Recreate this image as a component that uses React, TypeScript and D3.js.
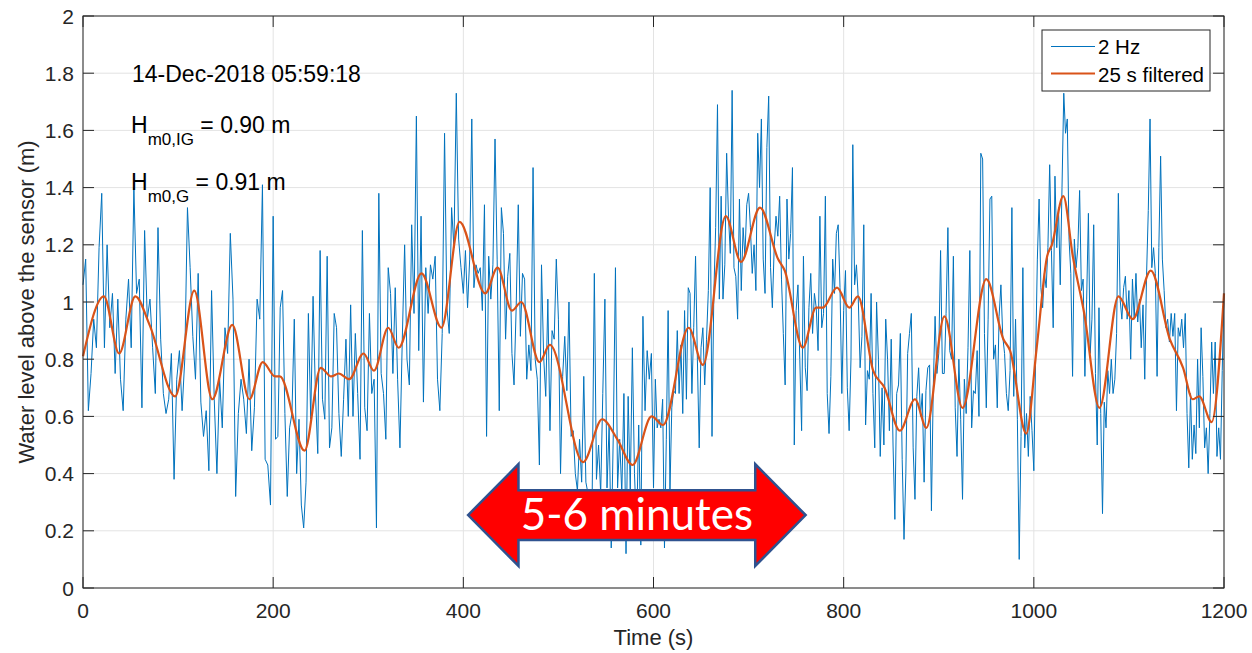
import * as d3 from 'd3';

// 2 Hz record in 200 s blocks (values in m)
const raw0 = [1.06, 1.15, 0.62, 0.75, 0.94, 0.84, 1.19, 1.38, 0.84, 1.20, 0.91, 1.03, 0.75, 1.01, 0.73, 0.62, 0.94, 1.08, 0.84, 1.40, 1.03, 1.08, 0.63, 1.25, 0.94, 1.01, 0.84, 0.68, 1.26, 0.87, 0.68, 0.61, 0.66, 0.82, 0.38, 0.73, 0.83, 0.62, 0.80, 1.33, 1.12, 0.88, 0.73, 1.10, 0.65, 0.53, 0.62, 0.41, 1.04, 0.66, 0.40, 0.73, 0.56, 0.91, 0.82, 1.24, 1.01, 0.32, 0.61, 0.73, 0.66, 0.54, 0.80, 0.48, 0.63, 1.01, 0.94, 1.41, 0.45, 0.43, 0.29];
const raw1 = [1.30, 0.52, 0.53, 0.98, 1.04, 0.61, 0.32, 0.56, 0.61, 0.94, 0.40, 0.59, 0.29, 0.21, 0.37, 0.96, 0.59, 1.02, 0.68, 0.47, 1.18, 0.66, 0.59, 1.16, 0.49, 0.56, 0.96, 0.91, 0.61, 0.46, 0.66, 0.87, 0.60, 0.99, 0.60, 0.89, 0.68, 0.45, 1.25, 0.63, 0.55, 0.96, 0.68, 0.73, 0.21, 1.38, 0.75, 0.68, 0.52, 1.12, 1.03, 0.75, 1.05, 0.73, 0.49, 0.87, 1.20, 0.80, 0.71, 1.27, 0.96, 1.65, 0.83, 1.30, 0.65, 1.12, 0.96, 1.13, 1.08, 1.16, 0.73, 0.62, 0.89, 1.59, 0.98, 0.89, 1.33, 1.19, 1.73, 1.22, 1.12];
const raw2 = [1.03, 1.18, 0.98, 1.15, 1.64, 1.05, 1.13, 1.10, 1.12, 0.97, 1.34, 0.53, 1.16, 1.01, 1.13, 1.57, 1.15, 0.62, 1.33, 1.24, 0.87, 1.09, 1.17, 0.82, 0.71, 0.98, 1.34, 0.88, 1.10, 1.08, 0.73, 0.85, 0.76, 1.47, 0.80, 0.73, 0.43, 1.13, 0.81, 0.67, 1.01, 0.55, 0.90, 0.87, 1.15, 0.94, 0.40, 0.74, 0.88, 0.69, 1.00, 0.53, 0.55, 0.40, 0.34, 0.52, 0.37, 0.74, 0.37, 0.33, 0.34, 0.34, 1.10, 0.38, 0.50, 0.33, 0.68, 1.01, 0.35, 0.57, 0.14, 0.55, 1.12, 0.35, 0.52, 0.33, 0.68, 0.12, 0.67, 0.34, 0.84, 0.40, 0.20, 0.57, 0.15, 0.95, 0.62, 0.83, 0.73, 0.82];
const raw3 = [0.35, 0.73, 0.56, 0.59, 0.56, 0.66, 0.14, 0.52, 0.97, 0.34, 0.63, 0.69, 0.68, 0.90, 0.68, 0.85, 0.61, 0.97, 0.66, 1.05, 1.03, 0.68, 0.91, 1.16, 0.80, 0.49, 0.84, 0.91, 0.71, 0.87, 1.04, 1.40, 0.53, 1.03, 1.26, 1.69, 1.01, 1.37, 1.01, 1.13, 1.52, 1.30, 1.17, 1.74, 1.12, 1.09, 0.94, 1.36, 1.04, 1.26, 1.16, 1.34, 1.38, 1.26, 1.10, 1.20, 1.04, 1.59, 1.40, 1.64, 1.15, 1.03, 1.54, 1.72, 1.12, 0.98, 1.19, 1.30, 1.23, 1.37, 1.08, 0.89, 0.71, 1.36, 1.15, 1.24, 1.47, 0.50, 0.97, 1.06, 0.80, 0.55, 1.16, 0.77, 0.69, 0.98, 1.10, 0.89, 1.03, 0.98, 0.83, 1.30, 0.91, 0.96, 1.37, 0.68, 0.54, 0.74, 1.15, 1.03, 1.24, 1.27, 1.05, 0.68];
const raw4 = [0.97, 1.11, 0.70, 0.55, 0.80, 1.55, 1.06, 1.13, 1.01, 0.77, 0.88, 1.27, 0.57, 0.76, 0.73, 1.03, 0.68, 0.49, 1.00, 0.80, 0.46, 0.70, 0.50, 0.94, 0.80, 0.55, 0.87, 0.50, 0.24, 0.68, 0.71, 0.89, 0.45, 0.17, 0.40, 0.82, 0.89, 0.96, 0.49, 0.31, 0.67, 0.77, 0.60, 0.68, 0.37, 0.69, 0.77, 0.78, 0.27, 0.70, 0.95, 0.75, 0.82, 1.18, 0.75, 0.75, 0.96, 1.26, 0.83, 0.80, 1.16, 0.63, 0.46, 0.80, 0.59, 0.31, 0.73, 0.61, 0.84, 1.18, 0.56, 0.69, 0.68, 0.83, 0.60, 1.52, 1.50, 0.89, 0.63, 0.94, 1.36, 1.37, 0.80, 0.85, 0.63, 0.95, 1.06, 0.88, 0.82, 0.68, 0.62, 0.76, 1.33, 0.67, 0.94, 0.59, 0.10, 0.53, 1.12, 0.49, 0.61, 0.46, 0.67, 0.55];
const raw5 = [0.41, 0.80, 1.15, 1.36, 1.05, 0.98, 1.10, 1.05, 1.19, 1.48, 1.18, 0.91, 1.44, 1.19, 1.33, 1.06, 1.40, 1.73, 1.59, 1.64, 1.22, 1.10, 0.74, 1.22, 1.12, 1.19, 1.39, 1.04, 1.08, 0.74, 1.01, 1.31, 0.82, 0.94, 1.27, 0.75, 0.50, 0.98, 0.61, 0.26, 0.65, 0.56, 0.76, 0.68, 0.80, 0.68, 0.73, 0.89, 1.38, 1.01, 0.94, 1.05, 1.09, 0.94, 1.04, 0.80, 1.08, 0.94, 1.10, 0.93, 1.01, 0.84, 0.99, 0.73, 1.09, 1.32, 1.64, 1.12, 1.19, 1.10, 0.74, 1.19, 1.51, 1.15, 1.04, 0.91, 0.94, 0.86, 0.96, 0.88, 0.96, 0.62, 0.91, 0.88, 0.94, 0.84, 0.96, 0.61, 0.42, 0.68, 0.45, 0.57, 0.47, 0.80, 0.56, 0.91, 0.74, 0.49, 0.56, 0.40, 0.61, 0.86, 0.68, 0.86, 0.46, 0.56, 0.45, 0.76, 1.03];
const rawBlocks = [raw0, raw1, raw2, raw3, raw4, raw5];

// 25 s low-pass signal: [time (s), level (m)]
const filtered: [number, number][] = [
  [0, 0.81], [22, 1.02], [38, 0.82], [55, 1.02], [70, 0.92], [97, 0.67], [117, 1.04], [136, 0.66],
  [157, 0.92], [175, 0.66], [189, 0.79], [202, 0.74], [207, 0.74], [233, 0.48], [250, 0.77], [261, 0.74],
  [269, 0.75], [280, 0.73], [295, 0.82], [306, 0.76], [321, 0.91], [332, 0.84], [356, 1.10], [377, 0.91],
  [396, 1.28], [423, 1.03], [436, 1.12], [451, 0.97], [461, 1.00], [480, 0.79], [491, 0.85], [526, 0.44],
  [546, 0.59], [562, 0.52], [578, 0.43], [598, 0.60], [610, 0.57], [637, 0.91], [652, 0.78], [676, 1.30],
  [692, 1.14], [712, 1.33], [731, 1.15], [738, 1.11], [757, 0.84], [771, 0.98], [778, 0.98], [793, 1.05],
  [806, 0.98], [815, 1.02], [831, 0.76], [843, 0.70], [859, 0.55], [875, 0.66], [887, 0.56], [906, 0.95],
  [925, 0.63], [950, 1.08], [968, 0.87], [975, 0.83], [992, 0.54], [1003, 0.84], [1014, 1.16], [1019, 1.20],
  [1031, 1.37], [1041, 1.16], [1053, 0.96], [1069, 0.63], [1089, 1.02], [1104, 0.94], [1123, 1.11], [1143, 0.87],
  [1157, 0.77], [1167, 0.66], [1174, 0.67], [1187, 0.58], [1200, 1.03],
];

const xTicks = [0, 200, 400, 600, 800, 1000, 1200];
const yTicks = [0, 0.2, 0.4, 0.6, 0.8, 1, 1.2, 1.4, 1.6, 1.8, 2];

const W = 1252;
const H = 653;
const plot = { left: 83, right: 1224, top: 16, bottom: 588 };
const font = '"Liberation Sans", Arial, sans-serif';
const axisColor = '#262626';
const gridColor = '#e3e3e3';
const tickLen = 11;

export default function App() {
  const x = d3.scaleLinear().domain([0, 1200]).range([plot.left, plot.right]);
  const y = d3.scaleLinear().domain([0, 2]).range([plot.bottom, plot.top]);

  const rawPts: [number, number][] = [];
  rawBlocks.forEach((blk, k) => {
    const n = k === rawBlocks.length - 1 ? blk.length - 1 : blk.length;
    blk.forEach((v, i) => rawPts.push([200 * k + (i * 200) / n, v]));
  });

  const rawLine = d3.line<[number, number]>().x(d => x(d[0])).y(d => y(d[1]));
  const smoothLine = d3.line<[number, number]>()
    .x(d => x(d[0]))
    .y(d => y(d[1]))
    .curve(d3.curveMonotoneX);

  // double-headed arrow annotation, in data units
  const aL = 405, aR = 760, aHead = 53;
  const aMid = 0.255, aShaft = 0.087, aHalf = 0.178;
  const arrowPts: [number, number][] = [
    [aL, aMid], [aL + aHead, aMid + aHalf], [aL + aHead, aMid + aShaft], [aR - aHead, aMid + aShaft],
    [aR - aHead, aMid + aHalf], [aR, aMid], [aR - aHead, aMid - aHalf], [aR - aHead, aMid - aShaft],
    [aL + aHead, aMid - aShaft], [aL + aHead, aMid - aHalf],
  ];
  const arrowPath = arrowPts.map(p => `${x(p[0])},${y(p[1])}`).join(' ');

  return (
    <svg width={W} height={H} style={{ position: 'absolute', left: 0, top: 0, background: '#fff' }}
      fontFamily={font}>
      <rect x={0} y={0} width={W} height={H} fill="#fff" />

      {/* grid */}
      {xTicks.map(t => (
        <line key={'gx' + t} x1={x(t)} x2={x(t)} y1={plot.top} y2={plot.bottom} stroke={gridColor} strokeWidth={1} />
      ))}
      {yTicks.map(t => (
        <line key={'gy' + t} x1={plot.left} x2={plot.right} y1={y(t)} y2={y(t)} stroke={gridColor} strokeWidth={1} />
      ))}

      {/* data */}
      <path d={rawLine(rawPts) || ''} fill="none" stroke="#0072BD" strokeWidth={1} strokeLinejoin="round" />
      <path d={smoothLine(filtered) || ''} fill="none" stroke="#D95319" strokeWidth={2.2} />

      {/* box + ticks */}
      <rect x={plot.left} y={plot.top} width={plot.right - plot.left} height={plot.bottom - plot.top}
        fill="none" stroke={axisColor} strokeWidth={1} />
      {xTicks.map(t => (
        <g key={'tx' + t}>
          <line x1={x(t)} x2={x(t)} y1={plot.bottom} y2={plot.bottom - tickLen} stroke={axisColor} />
          <line x1={x(t)} x2={x(t)} y1={plot.top} y2={plot.top + tickLen} stroke={axisColor} />
          <text x={x(t)} y={plot.bottom + 30} textAnchor="middle" fontSize={21} fill={axisColor}>{t}</text>
        </g>
      ))}
      {yTicks.map(t => (
        <g key={'ty' + t}>
          <line x1={plot.left} x2={plot.left + tickLen} y1={y(t)} y2={y(t)} stroke={axisColor} />
          <line x1={plot.right} x2={plot.right - tickLen} y1={y(t)} y2={y(t)} stroke={axisColor} />
          <text x={plot.left - 9} y={y(t) + 7.5} textAnchor="end" fontSize={21} fill={axisColor}>{d3.format('~g')(t)}</text>
        </g>
      ))}

      {/* axis labels */}
      <text x={(plot.left + plot.right) / 2} y={645} textAnchor="middle" fontSize={22} fill={axisColor}>Time (s)</text>
      <text transform={`translate(34,${(plot.top + plot.bottom) / 2}) rotate(-90)`} textAnchor="middle"
        fontSize={22} fill={axisColor}>Water level above the sensor (m)</text>

      {/* annotations */}
      <text x={132} y={82} fontSize={23} fill="#000">14-Dec-2018 05:59:18</text>
      <text x={131} y={133} fontSize={23} fill="#000">
        H<tspan fontSize={17} dy={12}>m0,IG</tspan><tspan dy={-12}> = 0.90 m</tspan>
      </text>
      <text x={131} y={190} fontSize={23} fill="#000">
        H<tspan fontSize={17} dy={12}>m0,G</tspan><tspan dy={-12}> = 0.91 m</tspan>
      </text>

      {/* legend */}
      <g>
        <rect x={1042} y={30} width={168} height={61} fill="#fff" stroke={axisColor} strokeWidth={1} />
        <line x1={1051} x2={1095} y1={46.5} y2={46.5} stroke="#0072BD" strokeWidth={1} />
        <text x={1098} y={54} fontSize={20.5} fill="#000">2 Hz</text>
        <line x1={1051} x2={1095} y1={73.5} y2={73.5} stroke="#D95319" strokeWidth={2.2} />
        <text x={1098} y={81.5} fontSize={20.5} fill="#000">25 s filtered</text>
      </g>

      {/* 5-6 minutes arrow */}
      <polygon points={arrowPath} fill="#ff0000" stroke="#2f528f" strokeWidth={2.5} strokeLinejoin="miter" />
      <text x={x((aL + aR) / 2)} y={y(aMid) + 15} textAnchor="middle" fontSize={44}
        fontFamily='Lato, "Open Sans", sans-serif' fill="#fff">5-6 minutes</text>
    </svg>
  );
}
